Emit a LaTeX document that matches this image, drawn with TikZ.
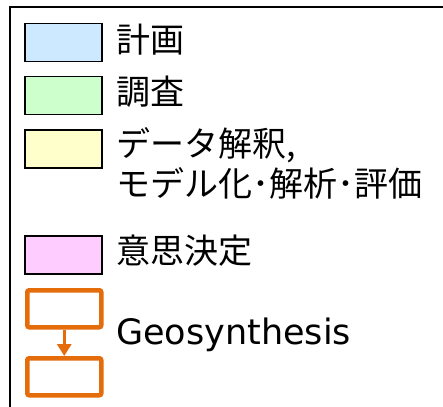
\documentclass[tikz,border=0pt]{standalone}
\usepackage{fontspec}
\setmainfont{Noto Sans CJK JP}
\newfontfamily\latinfont{DejaVu Sans}
\usetikzlibrary{arrows.meta}
\definecolor{cblue}{HTML}{CCE9FF}
\definecolor{cgreen}{HTML}{CCFFCC}
\definecolor{cyellow}{HTML}{FFFFCC}
\definecolor{cpink}{HTML}{FFCCFF}
\definecolor{corange}{HTML}{E46C0A}
\begin{document}
\begin{tikzpicture}[x=1pt,y=1pt,
  keybox/.style={draw=black,line width=1.5pt,minimum width=77pt,minimum height=38pt,inner sep=0pt,anchor=north west},
  geobox/.style={draw=corange,line width=4.5pt,rounded corners=2pt,minimum width=74pt,minimum height=37pt,inner sep=0pt,anchor=north west,fill=white},
  lbl/.style={anchor=west,inner sep=0pt,font=\fontsize{34pt}{40pt}\selectfont,align=left}]
\useasboundingbox (0,0) rectangle (443,-406);
\draw[line width=2pt] (9.5,-430) -- (9.5,-7.5) -- (470,-7.5);
\node[keybox,fill=cblue] (b1) at (24,-23) {};
\node[keybox,fill=cgreen] (b2) at (24,-76) {};
\node[keybox,fill=cyellow] (b3) at (24,-129) {};
\node[keybox,fill=cpink] (b4) at (24,-235) {};
\node[geobox] (g1) at (25,-288) {};
\node[geobox] (g2) at (25,-356) {};
\draw[corange,line width=3pt,-{Triangle[length=12pt,width=14pt]}] (g1.south) -- (g2.north);
\node[lbl] (t1) at (116,-40) {計画};
\node[lbl] (t2) at (116,-92) {調査};
\node[lbl] (t3) at (116,-163) {データ解釈,\\モデル化･解析･評価};
\node[lbl] (t4) at (116,-251) {意思決定};
\node[lbl,font=\fontsize{35pt}{40pt}\selectfont\latinfont] (t5) at (116,-335) {Geosynthesis};
\end{tikzpicture}
\end{document}
